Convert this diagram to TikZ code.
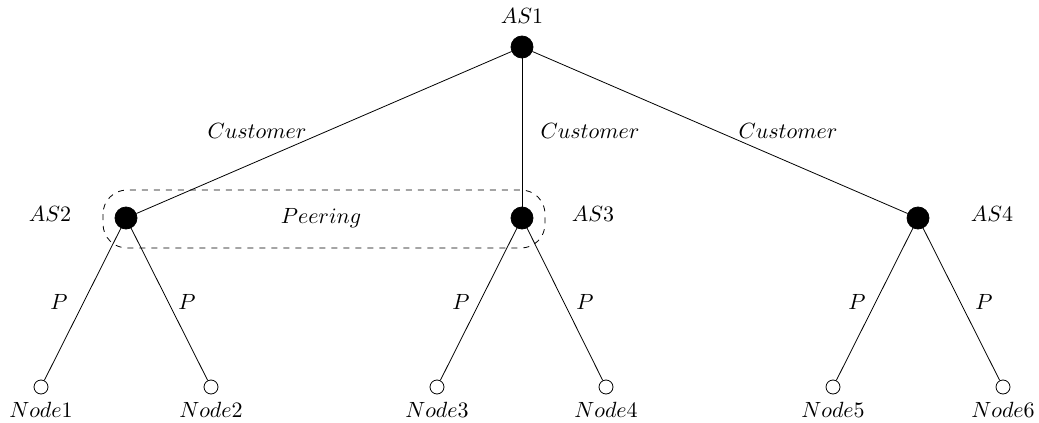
\documentclass[tikz,border=0pt]{standalone}
\begin{document}
\begin{tikzpicture}[x=0.5pt,y=-0.5pt,
  asnode/.style={circle,fill=black,draw=black,inner sep=0pt,minimum size=11pt},
  leaf/.style={circle,draw=black,fill=white,inner sep=0pt,minimum size=7pt},
  lbl/.style={inner sep=0pt,scale=1.1}]
\useasboundingbox (0,0) rectangle (1039,423);
\node[asnode] (as1) at (522,47) {};
\node[asnode] (as2) at (126,218) {};
\node[asnode] (as3) at (522,218) {};
\node[asnode] (as4) at (918,218) {};
\node[leaf] (n1) at (41,387) {};
\node[leaf] (n2) at (211,387) {};
\node[leaf] (n3) at (437,387) {};
\node[leaf] (n4) at (606,387) {};
\node[leaf] (n5) at (833,387) {};
\node[leaf] (n6) at (1003,387) {};
\node[lbl] (t1) at (522,16) {$AS1$};
\node[lbl] (t2) at (50,214) {$AS2$};
\node[lbl] (t3) at (593,214) {$AS3$};
\node[lbl] (t4) at (992,214) {$AS4$};
\node[lbl] (l1) at (41,410) {$Node1$};
\node[lbl] (l2) at (211,410) {$Node2$};
\node[lbl] (l3) at (437,410) {$Node3$};
\node[lbl] (l4) at (606,410) {$Node4$};
\node[lbl] (l5) at (833,410) {$Node5$};
\node[lbl] (l6) at (1003,410) {$Node6$};
\draw (as1) -- (as2);
\draw (as1) -- (as3);
\draw (as1) -- (as4);
\draw (as2) -- (n1);
\draw (as2) -- (n2);
\draw (as3) -- (n3);
\draw (as3) -- (n4);
\draw (as4) -- (n5);
\draw (as4) -- (n6);
\node[lbl] (c1) at (257,131) {$Customer$};
\node[lbl] (c2) at (590,131) {$Customer$};
\node[lbl] (c3) at (788,131) {$Customer$};
\node[lbl] (pe) at (321,218) {$Peering$};
\node[lbl] (p1) at (59,302) {$P$};
\node[lbl] (p2) at (187,302) {$P$};
\node[lbl] (p3) at (461,302) {$P$};
\node[lbl] (p4) at (585,302) {$P$};
\node[lbl] (p5) at (857,302) {$P$};
\node[lbl] (p6) at (984,302) {$P$};
\draw[dashed,rounded corners=12pt] (103,190) rectangle (545,248);
\end{tikzpicture}
\end{document}
